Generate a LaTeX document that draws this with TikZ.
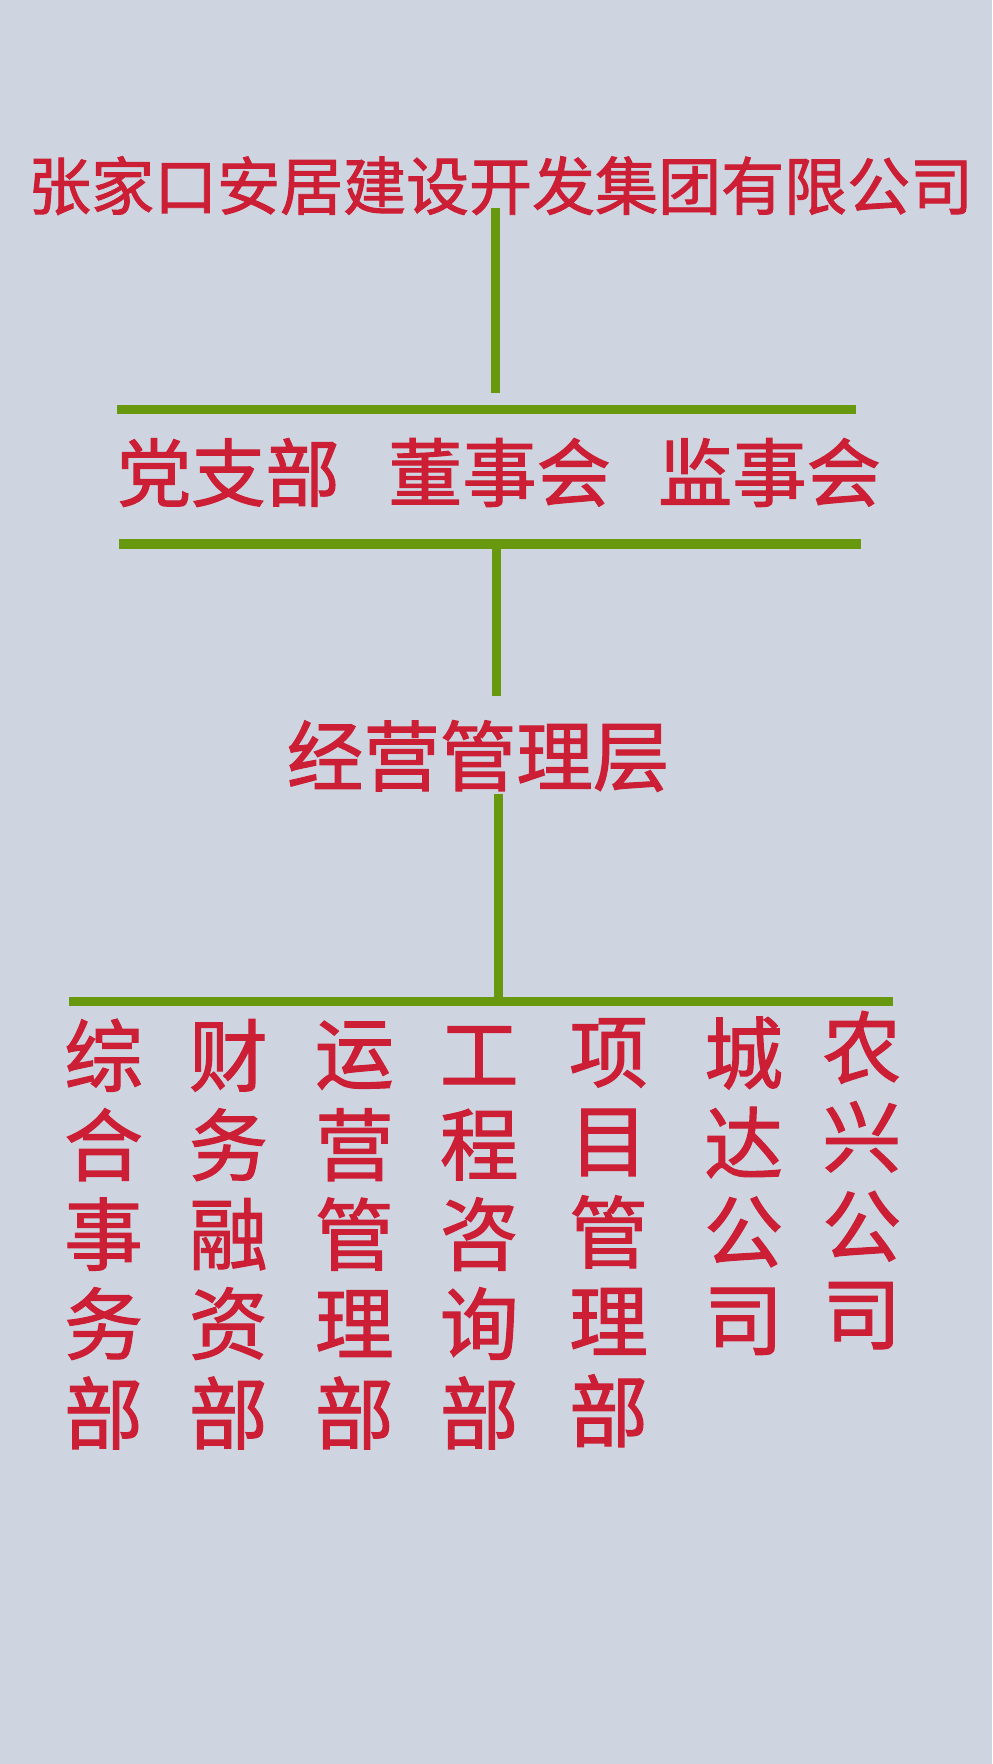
\documentclass[tikz,border=0pt]{standalone}
\usepackage{fontspec}
\setmainfont{Noto Sans CJK SC}[FakeBold=1.5]
\definecolor{bgblue}{RGB}{206,213,225}
\definecolor{orgred}{RGB}{204,30,52}
\definecolor{orggreen}{RGB}{104,152,14}
\begin{document}
\begin{tikzpicture}
		[	x=0.5pt,y=-0.5pt,
		lbl/.style={inner sep=0pt,text=orgred},
		big/.style={lbl,font=\fontsize{28}{30}\selectfont},
		mid/.style={lbl,font=\fontsize{33}{36}\selectfont},
		dept/.style={lbl,font=\fontsize{35}{38}\selectfont},
		rule/.style={draw=orggreen,line width=4.2pt},
		link/.style={draw=orggreen,line width=4pt},
		]
		\fill[bgblue] (0,0) rectangle (882,1568);

		\node[big,name=group] at (445,165) {张家口安居建设开发集团有限公司};

		\node[mid,name=party] at (203,420) {党支部};
		\node[mid,name=board] at (444,420) {董事会};
		\node[mid,name=super] at (684,420) {监事会};

		\node[mid,font=\fontsize{34}{36}\selectfont,name=manage] at (425,672) {经营管理层};

		\coordinate (r1l) at (104,364);
		\coordinate (r1r) at (761,364);
		\coordinate (r2l) at (106,483.5);
		\coordinate (r2r) at (765,483.5);
		\coordinate (r3l) at (61,890);
		\coordinate (r3r) at (794,890);
		\draw[rule] (r1l) -- (r1r);
		\draw[rule] (r2l) -- (r2r);
		\draw[rule] (r3l) -- (r3r);

		\coordinate (v1a) at (440,185);
		\coordinate (v1b) at (440,349);
		\coordinate (v2a) at (441.5,484);
		\coordinate (v2b) at (441.5,619);
		\coordinate (v3a) at (443.5,706);
		\coordinate (v3b) at (443.5,890);
		\draw[link] (v1a) -- (v1b);
		\draw[link] (v2a) -- (v2b);
		\draw[link] (v3a) -- (v3b);

		\foreach \col/\x/\dy/\chars in {1/92/0/{综,合,事,务,部},2/203/0/{财,务,融,资,部},
			3/315/0/{运,营,管,理,部},4/426/0/{工,程,咨,询,部},5/541/-2/{项,目,管,理,部},
			6/661/-2/{城,达,公,司},7/766/-7/{农,兴,公,司}}
			\foreach \c [count=\r] in \chars
				\node[dept,name=d\col-\r] at (\x,938+\dy+79.5*\r-79.5) {\c};
	\end{tikzpicture}
\end{document}
